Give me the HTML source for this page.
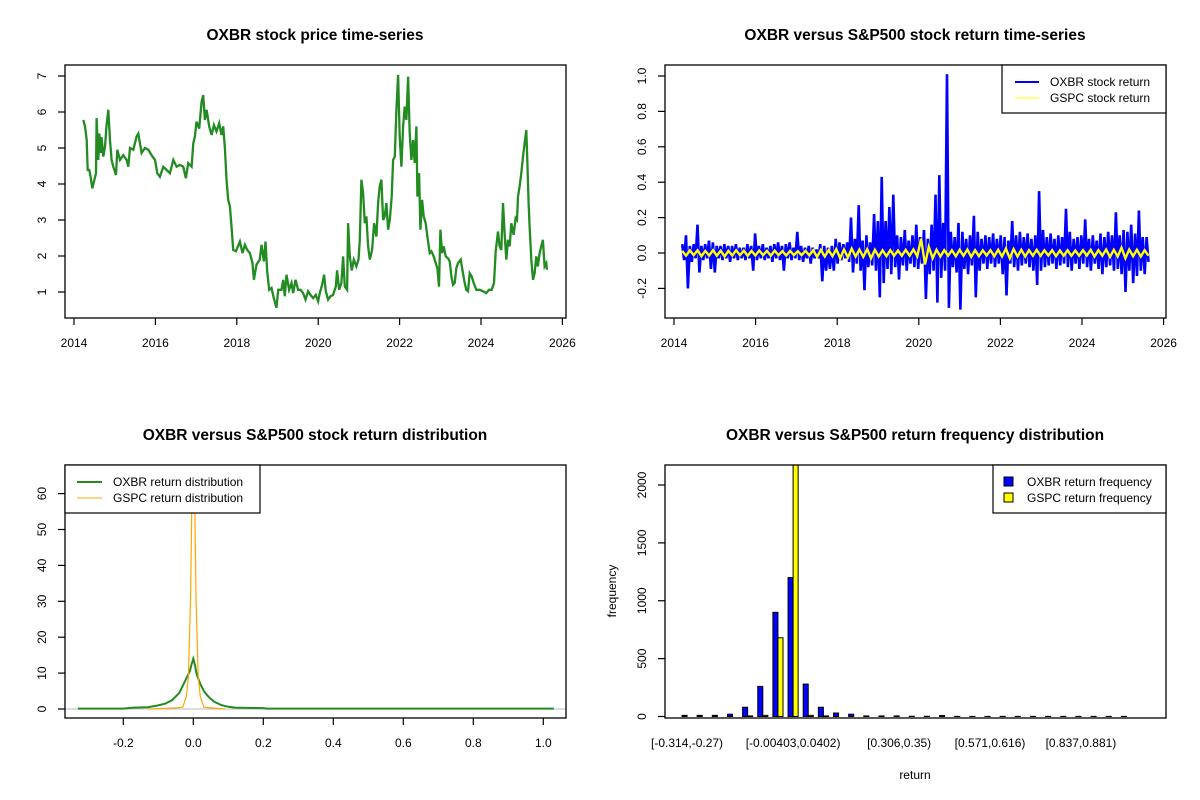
<!DOCTYPE html>
<html><head><meta charset="utf-8"><style>
html,body{margin:0;padding:0;background:#fff;}
svg{display:block;font-family:"Liberation Sans",Arial,sans-serif;}
</style></head><body>
<svg id="chart" width="1200" height="800" viewBox="0 0 1200 800" xmlns="http://www.w3.org/2000/svg">
<defs>
<clipPath id="cTL"><rect x="65" y="65" width="501" height="253"/></clipPath>
<clipPath id="cTR"><rect x="665" y="65" width="501" height="253"/></clipPath>
<clipPath id="cBL"><rect x="65" y="465" width="501" height="253"/></clipPath>
<clipPath id="cBR"><rect x="665" y="465" width="501" height="253"/></clipPath>
</defs>
<rect x="0" y="0" width="1200" height="800" fill="#fff"/>
<text x="315" y="40" text-anchor="middle" font-size="15.5" font-weight="bold">OXBR stock price time-series</text>
<text x="915" y="40" text-anchor="middle" font-size="15.5" font-weight="bold">OXBR versus S&amp;P500 stock return time-series</text>
<text x="315" y="440" text-anchor="middle" font-size="15.5" font-weight="bold">OXBR versus S&amp;P500 stock return distribution</text>
<text x="915" y="440" text-anchor="middle" font-size="15.5" font-weight="bold">OXBR versus S&amp;P500 return frequency distribution</text>
<g id="gTL"></g>
<g id="gTR"></g>
<g id="gBL"></g>
<g id="gBR"></g>
<text x="915" y="779" text-anchor="middle" font-size="12">return</text>
<text x="616" y="591" text-anchor="middle" font-size="12" transform="rotate(-90 616 591)">frequency</text>
</svg>
<script>
// ---------- price series (years since 2014, price) ----------
const priceYears = [0.229,0.270,0.311,0.336,0.376,0.409,0.450,0.491,0.540,0.556,0.597,0.622,0.655,0.679,0.720,0.761,0.802,0.843,0.884,0.925,0.966,1.031,1.064,1.129,1.211,1.293,1.334,1.375,1.457,1.538,1.579,1.661,1.743,1.825,1.907,1.989,2.046,2.111,2.193,2.275,2.357,2.439,2.520,2.602,2.684,2.750,2.807,2.889,2.930,2.971,3.011,3.077,3.134,3.175,3.216,3.257,3.322,3.380,3.437,3.502,3.568,3.625,3.666,3.707,3.748,3.789,3.830,3.871,3.912,3.977,4.075,4.141,4.198,4.255,4.321,4.386,4.419,4.484,4.566,4.607,4.665,4.705,4.746,4.795,4.853,4.910,4.975,5.016,5.098,5.139,5.180,5.221,5.286,5.344,5.385,5.442,5.507,5.565,5.630,5.687,5.753,5.810,5.876,5.941,5.998,6.039,6.097,6.146,6.187,6.244,6.301,6.367,6.432,6.465,6.514,6.571,6.612,6.653,6.710,6.735,6.776,6.825,6.874,6.939,6.989,7.021,7.062,7.103,7.144,7.185,7.226,7.267,7.324,7.373,7.430,7.471,7.512,7.553,7.594,7.635,7.676,7.717,7.758,7.807,7.840,7.881,7.921,7.962,8.003,8.044,8.085,8.126,8.167,8.208,8.249,8.290,8.331,8.372,8.412,8.437,8.478,8.511,8.552,8.592,8.642,8.683,8.740,8.781,8.838,8.887,8.928,8.969,9.002,9.043,9.083,9.133,9.190,9.231,9.272,9.313,9.354,9.394,9.435,9.501,9.558,9.599,9.640,9.681,9.722,9.771,9.820,9.885,9.967,10.049,10.131,10.196,10.262,10.319,10.360,10.417,10.458,10.499,10.540,10.581,10.622,10.663,10.704,10.745,10.802,10.851,10.884,10.908,10.949,10.990,11.031,11.072,11.113,11.137,11.170,11.195,11.236,11.277,11.318,11.358,11.399,11.440,11.481,11.522,11.563,11.604,11.620];
const priceValues = [5.78,5.6,5.22,4.39,4.39,4.2,3.88,4.07,4.3,5.83,4.67,5.4,4.86,5.3,4.76,5.04,5.64,6.06,5.22,4.67,4.48,4.25,4.95,4.67,4.8,4.67,4.48,5.0,4.95,5.32,5.4,4.86,5.0,4.95,4.8,4.67,4.3,4.2,4.48,4.39,4.3,4.67,4.48,4.53,4.48,4.16,4.58,4.48,5.13,5.32,5.73,5.54,6.29,6.47,5.78,6.06,5.6,5.36,5.64,5.46,5.69,5.36,5.6,5.0,4.12,3.56,3.38,2.82,2.17,2.13,2.4,2.08,2.31,2.17,2.08,1.8,1.34,1.76,1.9,2.31,1.85,2.4,1.57,1.06,1.11,0.83,0.56,1.06,1.06,1.34,0.88,1.48,1.06,1.25,0.97,1.34,1.06,1.06,0.97,0.79,1.02,0.92,0.83,0.92,0.74,0.97,1.2,1.48,1.02,0.79,0.88,0.92,1.15,1.6,1.06,1.25,1.99,1.15,1.06,2.91,1.99,1.6,1.9,1.71,1.9,2.45,4.12,3.75,2.91,3.1,2.27,1.9,2.17,2.91,2.54,3.47,3.93,4.12,3.0,3.1,3.47,2.73,3.0,3.65,4.67,4.76,6.06,7.03,5.32,4.48,5.6,6.15,5.78,6.98,5.41,4.67,5.22,4.58,5.6,3.65,4.3,2.73,3.56,3.1,2.91,2.54,2.08,2.13,1.99,1.8,1.66,1.15,2.73,2.08,2.27,1.99,1.94,1.85,1.43,1.2,1.25,1.66,1.8,1.9,1.52,1.25,1.06,1.02,1.52,1.43,1.25,1.06,1.06,1.02,0.97,1.06,1.06,1.25,2.13,2.68,2.27,2.17,3.47,2.64,1.9,2.45,2.27,2.91,2.59,3.05,3.0,3.65,3.93,4.3,4.76,5.13,5.5,4.67,3.47,2.82,1.9,1.34,1.52,1.99,1.71,2.08,2.27,2.45,1.71,1.8,1.62];
const priceYTicks = [1,2,3,4,5,6,7];
const yearTicks = [2014,2016,2018,2020,2022,2024,2026];

// ---------- return series (evenly spaced trading samples) ----------
const returnStartYear = 2014.2;
const returnEndYear = 2025.63;
const oxbrReturns = [0.05,-0.04,0.10,-0.20,0.04,-0.05,0.05,-0.03,0.16,-0.11,0.04,-0.04,0.05,-0.03,0.07,-0.09,0.06,-0.11,0.04,-0.03,0.04,-0.04,0.05,-0.03,0.04,-0.05,0.04,-0.03,0.05,-0.04,0.03,-0.03,0.03,-0.04,0.05,-0.03,0.04,-0.10,0.11,-0.04,0.04,-0.03,0.05,-0.04,0.03,-0.03,0.04,-0.05,0.05,-0.03,0.06,-0.04,0.04,-0.10,0.05,-0.03,0.06,-0.04,0.03,-0.03,0.12,-0.04,0.04,-0.05,0.03,-0.03,0.04,-0.06,0.03,-0.03,0.02,-0.03,0.05,-0.16,0.04,-0.10,0.03,-0.09,0.04,-0.10,0.08,-0.06,0.06,-0.04,0.05,-0.03,0.06,-0.05,0.20,-0.11,0.08,-0.06,0.27,-0.10,0.07,-0.21,0.10,-0.08,0.06,-0.07,0.22,-0.10,0.18,-0.25,0.43,-0.17,0.18,-0.09,0.26,-0.12,0.33,-0.08,0.10,-0.15,0.09,-0.07,0.13,-0.10,0.07,-0.06,0.10,-0.08,0.16,-0.09,0.09,-0.06,0.13,-0.26,0.08,-0.12,0.16,-0.10,0.33,-0.28,0.44,-0.14,0.17,-0.10,1.01,-0.31,0.12,-0.08,0.09,-0.11,0.17,-0.32,0.12,-0.09,0.08,-0.12,0.10,-0.07,0.21,-0.25,0.12,-0.10,0.08,-0.06,0.10,-0.09,0.09,-0.06,0.11,-0.08,0.08,-0.06,0.10,-0.12,0.09,-0.24,0.07,-0.06,0.18,-0.08,0.10,-0.10,0.12,-0.07,0.09,-0.06,0.11,-0.08,0.08,-0.10,0.10,-0.18,0.35,-0.10,0.13,-0.08,0.09,-0.07,0.11,-0.06,0.08,-0.09,0.10,-0.07,0.09,-0.06,0.25,-0.08,0.12,-0.10,0.08,-0.06,0.09,-0.09,0.10,-0.06,0.19,-0.08,0.08,-0.10,0.10,-0.06,0.07,-0.09,0.11,-0.12,0.09,-0.08,0.12,-0.07,0.10,-0.10,0.23,-0.09,0.10,-0.12,0.13,-0.22,0.12,-0.10,0.16,-0.17,0.11,-0.13,0.24,-0.10,0.09,-0.12,0.09,-0.05];
const gspcReturns = [0.012,-0.015,0.014,-0.012,0.015,-0.018,0.012,-0.014,0.016,-0.015,0.013,-0.02,0.012,-0.014,0.015,-0.012,0.013,-0.016,0.012,-0.014,0.014,-0.012,0.012,-0.015,0.013,-0.012,0.011,-0.014,0.012,-0.012,0.010,-0.012,0.012,-0.013,0.015,-0.022,0.018,-0.02,0.016,-0.018,0.022,-0.03,0.02,-0.025,0.025,-0.02,0.02,-0.022,0.022,-0.03,0.018,-0.02,0.015,-0.018,0.016,-0.015,0.014,-0.016,0.018,-0.015,0.02,-0.018,0.08,-0.065,0.035,-0.03,0.018,-0.02,0.016,-0.015,0.015,-0.018,0.018,-0.016,0.02,-0.022,0.016,-0.018,0.015,-0.014,0.016,-0.018,0.018,-0.02,0.025,-0.03,0.022,-0.02,0.018,-0.02,0.016,-0.015,0.018,-0.016,0.015,-0.014,0.016,-0.018,0.014,-0.015,0.015,-0.016,0.014,-0.015,0.016,-0.014,0.018,-0.02,0.016,-0.015,0.02,-0.022,0.018,-0.02,0.03,-0.03,0.02,-0.018,0.018,-0.02,0.016,-0.015];
const returnYTicks = [-0.2,0.0,0.2,0.4,0.6,0.8,1.0];

// ---------- density curves ----------
const oxbrDensX = [-0.33,-0.2,-0.17,-0.13,-0.1,-0.08,-0.06,-0.05,-0.04,-0.03,-0.02,-0.01,-0.005,0,0.005,0.01,0.02,0.03,0.04,0.05,0.06,0.08,0.1,0.12,0.15,0.2,0.21,0.4,0.7,1.03];
const oxbrDensY = [0.1,0.1,0.4,0.5,1.0,1.5,2.5,3.5,4.5,6.5,8.5,10.5,12.5,14,12,9.5,7,5,3.8,2.8,2.0,1.1,0.6,0.4,0.3,0.25,0.1,0.1,0.1,0.1];
const gspcDensX = [-0.13,-0.08,-0.05,-0.03,-0.02,-0.014,-0.008,-0.004,-0.002,0,0.002,0.004,0.008,0.014,0.02,0.03,0.05,0.09];
const gspcDensY = [0,0.2,0.3,0.5,3.5,9,30,58,70,75,70,58,30,9,3.5,0.5,0.3,0];
const densXTicks = [-0.2,0.0,0.2,0.4,0.6,0.8,1.0];
const densYTicks = [0,10,20,30,40,50,60];

// ---------- histogram ----------
const oxbrFreq = [10,10,10,20,80,260,900,1200,280,80,30,20,5,5,5,2,2,8,1,1,1,1,1,1,1,1,1,1,1,1];
const gspcFreq = [0,0,0,0,5,10,680,2600,10,5,0,0,0,0,0,0,0,0,0,0,0,0,0,0,0,0,0,0,0,0];
const binLabels = ["[-0.314,-0.27)","[-0.00403,0.0402)","[0.306,0.35)","[0.571,0.616)","[0.837,0.881)"];
const binLabelIndex = [0,7,14,20,26];
const freqYTicks = [0,500,1000,1500,2000];

const NS = "http://www.w3.org/2000/svg";
function mk(tag, attrs, parent){
  const e = document.createElementNS(NS, tag);
  for (const k in attrs) e.setAttribute(k, attrs[k]);
  parent.appendChild(e);
  return e;
}
function box(g, x, y, w, h){
  const r = mk('rect', {x:x, y:y, width:w, height:h, fill:'none', stroke:'#000', 'stroke-width':1.3}, g);
  
  
}
function xAxis(g, ticks, sx, yb, fmt){
  ticks.forEach(t => {
    const x = sx(t);
    const l = mk('line', {x1:x, x2:x, y1:yb, y2:yb+7, stroke:'#000', 'stroke-width':1.2}, g);
    
    
    const tx = mk('text', {x:x, y:yb+29, 'text-anchor':'middle', 'font-size':12}, g);
    tx.textContent = fmt(t);
    
    
  });
}
function yAxis(g, ticks, sy, xl, fmt){
  ticks.forEach(t => {
    const y = sy(t);
    const l = mk('line', {x1:xl-7, x2:xl, y1:y, y2:y, stroke:'#000', 'stroke-width':1.2}, g);
    
    
    const tx = mk('text', {x:xl-19, y:y, 'text-anchor':'middle', 'font-size':12, transform:`rotate(-90 ${xl-19} ${y})`}, g);
    tx.textContent = fmt(t);
    
    
  });
}

// ===== Panel 1: price =====
(function(){
  const g = document.getElementById('gTL');
  const sx = t => 74 + (t - 2014) * 40.7;
  const sy = p => 292 - (p - 1) * 36;
  const pts = priceYears.map((t,i) => sx(2014 + t).toFixed(1) + ',' + sy(priceValues[i]).toFixed(1)).join(' ');
  const line = mk('polyline', {points:pts, fill:'none', stroke:'#228B22', 'stroke-width':2.3, 'stroke-linejoin':'miter', 'clip-path':'url(#cTL)'}, g);
  
  
  box(g, 65, 65, 501, 253);
  xAxis(g, yearTicks, sx, 318, t => String(t));
  yAxis(g, priceYTicks, sy, 65, t => String(t));
})();

// ===== Panel 2: returns =====
(function(){
  const g = document.getElementById('gTR');
  const sx = t => 674 + (t - 2014) * 40.8;
  const sy = r => 253 - r * 177;
  function series(arr, color, w, name){
    const n = arr.length;
    const pts = arr.map((v,i) => sx(returnStartYear + (returnEndYear - returnStartYear) * i / (n - 1)).toFixed(1) + ',' + sy(v).toFixed(1)).join(' ');
    const l = mk('polyline', {points:pts, fill:'none', stroke:color, 'stroke-width':w, 'clip-path':'url(#cTR)'}, g);
    
    
  }
  series(oxbrReturns, '#0000FF', 2.6, 'oxbr-return-line');
  series(gspcReturns, '#FFFF00', 2.4, 'gspc-return-line');
  box(g, 665, 65, 501, 253);
  xAxis(g, yearTicks, sx, 318, t => String(t));
  yAxis(g, returnYTicks, sy, 665, t => t.toFixed(1));
  const lg = mk('g', {}, g);
  
  
  mk('rect', {x:1002, y:65, width:164, height:48, fill:'#fff', stroke:'#000', 'stroke-width':1.2}, lg);
  mk('line', {x1:1015, x2:1039, y1:82, y2:82, stroke:'#0000FF', 'stroke-width':2}, lg);
  mk('line', {x1:1015, x2:1039, y1:98, y2:98, stroke:'#FFFF00', 'stroke-width':1}, lg);
  const t1 = mk('text', {x:1050, y:86, 'font-size':12}, lg); t1.textContent = 'OXBR stock return';
  
  
  const t2 = mk('text', {x:1050, y:102, 'font-size':12}, lg); t2.textContent = 'GSPC stock return';
  
  
})();

// ===== Panel 3: density =====
(function(){
  const g = document.getElementById('gBL');
  const sx = v => 193.3 + v * 350;
  const sy = d => 709 - d * 3.59;
  const zl = mk('line', {x1:65, x2:566, y1:sy(0), y2:sy(0), stroke:'#bebebe', 'stroke-width':1}, g);
  
  
  const p1 = mk('polyline', {points:oxbrDensX.map((x,i)=>sx(x).toFixed(1)+','+sy(oxbrDensY[i]).toFixed(1)).join(' '), fill:'none', stroke:'#228B22', 'stroke-width':2, 'clip-path':'url(#cBL)'}, g);
  
  
  const p2 = mk('polyline', {points:gspcDensX.map((x,i)=>sx(x).toFixed(1)+','+sy(gspcDensY[i]).toFixed(1)).join(' '), fill:'none', stroke:'#FFA500', 'stroke-width':1.2, 'clip-path':'url(#cBL)'}, g);
  
  
  box(g, 65, 465, 501, 253);
  xAxis(g, densXTicks, sx, 718, t => t.toFixed(1));
  yAxis(g, densYTicks, sy, 65, t => String(t));
  const lg = mk('g', {}, g);
  
  
  mk('rect', {x:65, y:465, width:195, height:48, fill:'#fff', stroke:'#000', 'stroke-width':1.2}, lg);
  mk('line', {x1:77, x2:102, y1:482, y2:482, stroke:'#228B22', 'stroke-width':2}, lg);
  mk('line', {x1:77, x2:102, y1:498, y2:498, stroke:'#FFA500', 'stroke-width':1}, lg);
  const t1 = mk('text', {x:113, y:486, 'font-size':12}, lg); t1.textContent = 'OXBR return distribution';
  
  
  const t2 = mk('text', {x:113, y:502, 'font-size':12}, lg); t2.textContent = 'GSPC return distribution';
  
  
})();

// ===== Panel 4: histogram =====
(function(){
  const g = document.getElementById('gBR');
  const unit = 5.05;
  const gx = k => 682 + k * 3 * unit;
  const sy = f => 716.5 - f * 0.11575;
  const bars = mk('g', {'clip-path':'url(#cBR)'}, g);
  oxbrFreq.forEach((f,k) => {
    const y = sy(f);
    const r = mk('rect', {x:gx(k), y:y, width:unit, height:sy(0)-y, fill:'#0000FF', stroke:'#000', 'stroke-width':1}, bars);
    
    
  });
  gspcFreq.forEach((f,k) => {
    const y = sy(f);
    const r = mk('rect', {x:gx(k)+unit, y:y, width:unit, height:sy(0)-y, fill:'#FFFF00', stroke:'#000', 'stroke-width':1}, bars);
    
    
  });
  box(g, 665, 465, 501, 253);
  yAxis(g, freqYTicks, sy, 665, t => String(t));
  binLabels.forEach((s,i) => {
    const tx = mk('text', {x:gx(binLabelIndex[i]) + unit, y:747, 'text-anchor':'middle', 'font-size':12}, g);
    tx.textContent = s;
    
    
  });
  const lg = mk('g', {}, g);
  
  
  mk('rect', {x:993, y:465, width:173, height:48, fill:'#fff', stroke:'#000', 'stroke-width':1.2}, lg);
  mk('rect', {x:1004, y:477, width:9, height:9, fill:'#0000FF', stroke:'#000', 'stroke-width':1}, lg);
  mk('rect', {x:1004, y:493, width:9, height:9, fill:'#FFFF00', stroke:'#000', 'stroke-width':1}, lg);
  const t1 = mk('text', {x:1027, y:486, 'font-size':12}, lg); t1.textContent = 'OXBR return frequency';
  
  
  const t2 = mk('text', {x:1027, y:502, 'font-size':12}, lg); t2.textContent = 'GSPC return frequency';
  
  
})();
</script>
</body></html>
